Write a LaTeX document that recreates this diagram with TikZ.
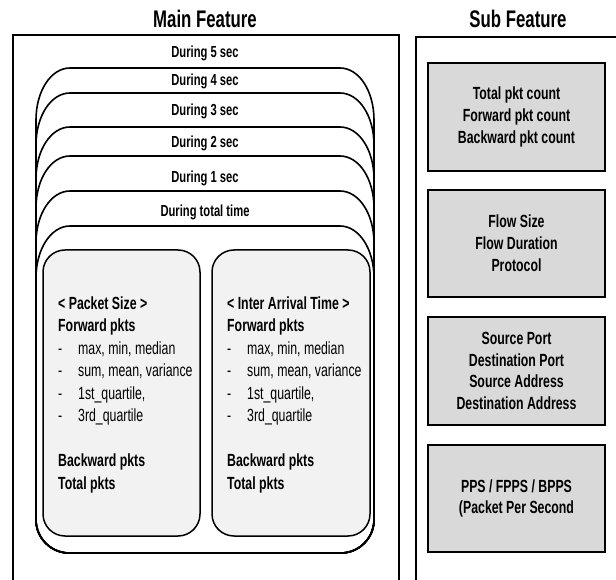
\documentclass[tikz,border=0pt]{standalone}
\usepackage{fontspec}
\setmainfont[FakeStretch=0.7]{Liberation Sans}
\definecolor{innergray}{HTML}{F2F2F2}
\definecolor{subgray}{HTML}{D9D9D9}
\newcommand\dashitem{\makebox[20pt][l]{-}}
\begin{document}
\begin{tikzpicture}[x=1pt,y=-1pt,
  frame/.style={line width=2pt},
  stk/.style={line width=1.6pt},
  lab/.style={font=\fontsize{16}{19}\selectfont\bfseries, anchor=base, inner sep=0},
  title/.style={font=\fontsize{24}{28}\selectfont\bfseries, anchor=base, inner sep=0},
  innerbox/.style={draw, line width=1.5pt, fill=innergray, rounded corners=22pt, minimum height=286pt},
  subbox/.style={draw, line width=2pt, fill=subgray, minimum width=177pt, minimum height=107.5pt, align=center, font=\fontsize{17.6}{21.8}\selectfont\bfseries},
  listtext/.style={anchor=north west, inner sep=0, align=left, font=\fontsize{17.6}{22.5}\selectfont}]
\useasboundingbox (0,0) rectangle (616,580);
% titles
\node[title] (tmain) at (205,27.5) {Main Feature};
\node[title] (tsub) at (518,27.5) {Sub Feature};
% frames
\draw[frame] (13,590) -- (13,35) -- (399,35) -- (399,590);
\draw[frame] (416,590) -- (416,37) -- (625,37);
% stacked rounded boxes
\foreach \t in {68,93,127,156,191,226} {
  \draw[stk] (36,520) -- (36,\t+52) .. controls (36,\t+23) and (51,\t) .. (70,\t)
    -- (340,\t) .. controls (359,\t) and (374,\t+23) .. (374,\t+52)
    -- (374,520) .. controls (374,538) and (359,553) .. (341,553)
    -- (69,553) .. controls (51,553) and (36,538) .. (36,520) -- cycle;
}
% labels
\node[lab] (l5) at (205,58) {During 5 sec};
\node[lab] (l4) at (205,86) {During 4 sec};
\node[lab] (l3) at (205,115.5) {During 3 sec};
\node[lab] (l2) at (205,148) {During 2 sec};
\node[lab] (l1) at (205,183) {During 1 sec};
\node[lab] (lt) at (205,216.5) {During total time};
% inner gray boxes
\node[innerbox, minimum width=157pt] (ps) at (121.5,393) {};
\node[innerbox, minimum width=158pt] (iat) at (291,393) {};
\node[listtext] (pstext) at (58,296.5) {\textbf{< Packet Size >}\\
\textbf{Forward pkts}\\
\dashitem max, min, median\\
\dashitem sum, mean, variance\\
\dashitem 1st\_quartile,\\
\dashitem 3rd\_quartile\\[22.5pt]
\textbf{Backward pkts}\\
\textbf{Total pkts}};
\node[listtext] (iattext) at (227,296.5) {\textbf{< Inter Arrival Time >}\\
\textbf{Forward pkts}\\
\dashitem max, min, median\\
\dashitem sum, mean, variance\\
\dashitem 1st\_quartile,\\
\dashitem 3rd\_quartile\\[22.5pt]
\textbf{Backward pkts}\\
\textbf{Total pkts}};
% sub feature boxes
\node[subbox] (s1) at (516.5,117) {Total pkt count\\Forward pkt count\\Backward pkt count};
\node[subbox] (s2) at (516.5,243.5) {Flow Size\\Flow Duration\\Protocol};
\node[subbox] (s3) at (516.5,371) {Source Port\\Destination Port\\Source Address\\Destination Address};
\node[subbox] (s4) at (516.5,498.5) {PPS / FPPS / BPPS\\(Packet Per Second};
\end{tikzpicture}
\end{document}
